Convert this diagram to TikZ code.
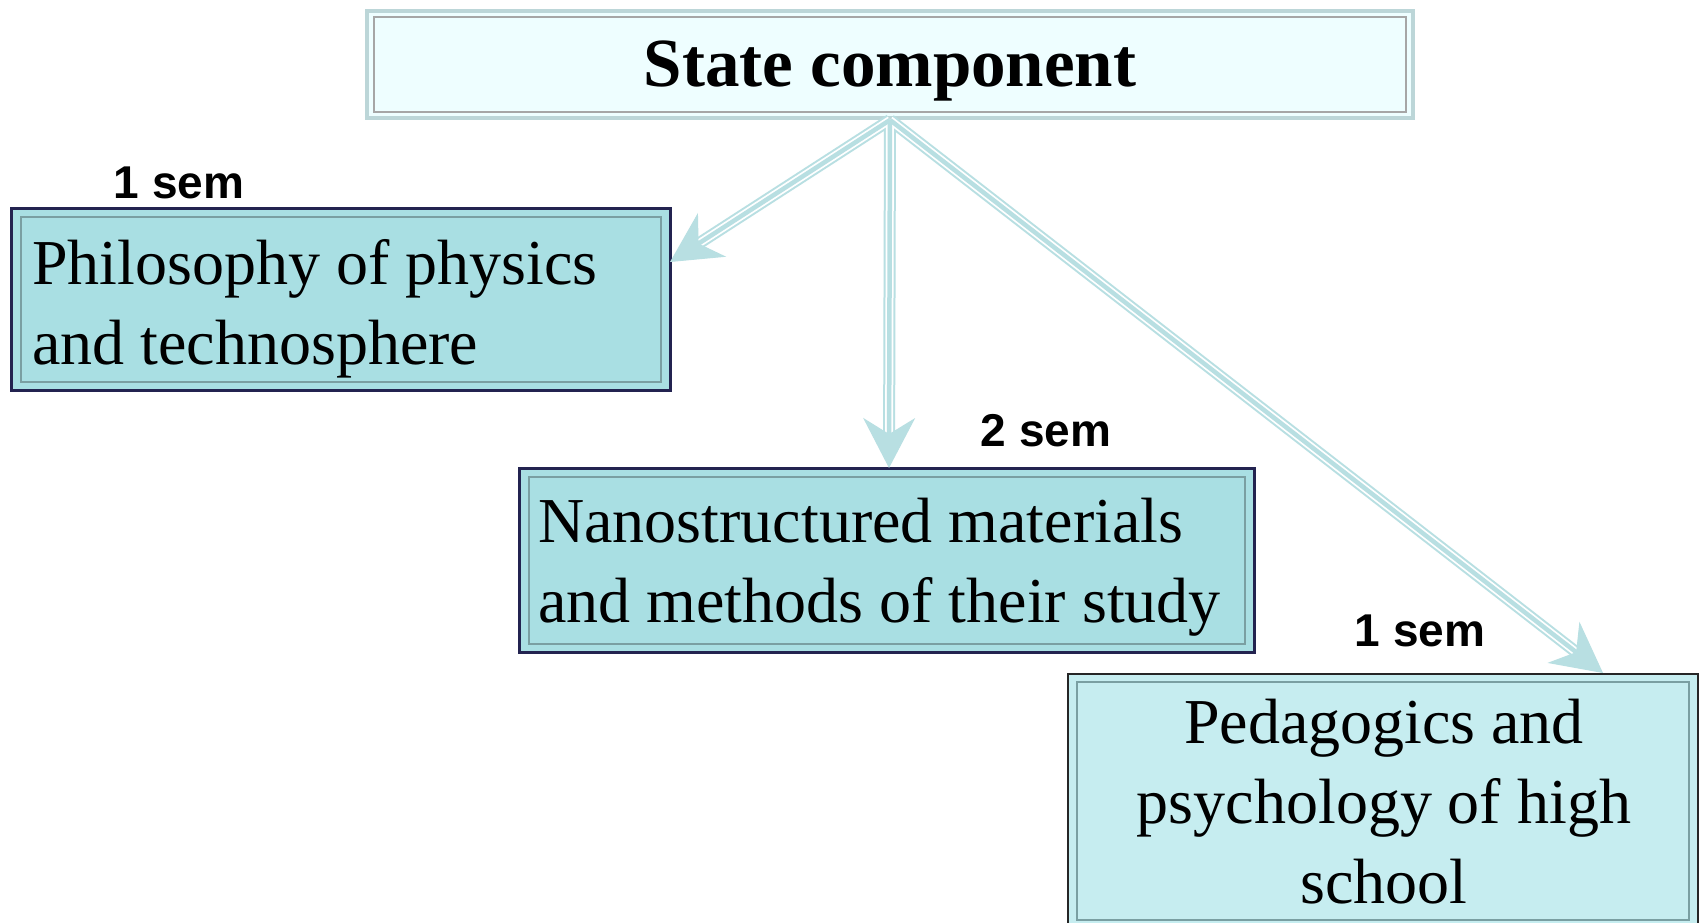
\documentclass[tikz,border=0pt]{standalone}
\usepackage{fontspec}
\setmainfont{Liberation Serif}
\newfontfamily\labelfont{Liberation Sans}
\usetikzlibrary{arrows.meta,calc}
\definecolor{arrowc}{HTML}{B8DFE2}
\definecolor{navy}{HTML}{232350}
\definecolor{boxfill}{HTML}{A9DFE3}
\definecolor{pedfill}{HTML}{C6EDF0}
\definecolor{topfill}{HTML}{EEFEFF}
\definecolor{topedge}{HTML}{BCD6D8}
\definecolor{inneredge}{HTML}{7A9FA2}
\begin{document}
\begin{tikzpicture}[x=1pt,y=-1pt,
  topbox/.style={draw=topedge, line width=4pt, fill=topfill, inner sep=0pt},
  topinner/.style={draw=gray!70, line width=1.5pt},
  cyanbox/.style={draw=navy, line width=3pt, fill=boxfill, inner sep=0pt},
  pedbox/.style={draw=black!85, line width=2.5pt, fill=pedfill, inner sep=0pt},
  innerframe/.style={draw=inneredge, line width=2pt},
  boxtext/.style={inner sep=0pt, font=\fontsize{64pt}{80pt}\selectfont},
  titletext/.style={inner sep=0pt, font=\fontsize{69pt}{80pt}\selectfont\bfseries},
  semlabel/.style={inner sep=0pt, font=\labelfont\bfseries\fontsize{46pt}{50pt}\selectfont},
  shaft/.style={draw=arrowc, line width=12pt, shorten >=20pt},
  shaftgap/.style={draw=white, line width=8pt, shorten >=20pt},
  shaftcore/.style={draw=arrowc, line width=4.5pt, shorten >=20pt},
  tipstyle/.style={draw=arrowc, fill=arrowc, line width=1pt, -{Stealth[length=50pt,width=52pt,inset=16pt]}}
]
\useasboundingbox (0,0) rectangle (1700,923);
\clip (0,0) rectangle (1700,923);
\fill[white] (0,0) rectangle (1700,923);

% top box
\node[topbox, minimum width=1046pt, minimum height=107pt] (top) at (890,64.5) {};
\draw[topinner] ([shift={(9,8)}]top.north west) rectangle ([shift={(-9,-8)}]top.south east);
\node[titletext, anchor=base] (title) at (890,87) {State component};

% left box
\node[cyanbox, minimum width=659pt, minimum height=182pt] (phil) at (340.5,299) {};
\draw[innerframe] ([shift={(11,10)}]phil.north west) rectangle ([shift={(-11,-10)}]phil.south east);
\node[boxtext, anchor=west, align=left] (philtext) at (32,308.5) {Philosophy of physics\\and technosphere};

% middle box
\node[cyanbox, minimum width=735pt, minimum height=184pt] (nano) at (886.5,560) {};
\draw[innerframe] ([shift={(11,10)}]nano.north west) rectangle ([shift={(-11,-10)}]nano.south east);
\node[boxtext, anchor=west, align=left] (nanotext) at (538,567.5) {Nanostructured materials\\and methods of their study};

% right box
\node[pedbox, minimum width=630pt, minimum height=254pt] (ped) at (1383,801) {};
\draw[innerframe] ([shift={(10,9)}]ped.north west) rectangle ([shift={(-10,-9)}]ped.south east);
\node[boxtext, align=center] (pedtext) at (1384,802) {Pedagogics and\\psychology of high\\school};

% labels
\node[semlabel, anchor=base] (s1) at (179,198) {1 sem};
\node[semlabel, anchor=base] (s2) at (1046,446) {2 sem};
\node[semlabel, anchor=base] (s3) at (1420,646) {1 sem};

% arrows
\coordinate (t1) at (670,262);
\coordinate (t2) at (889,468);
\coordinate (t3) at (1603,673);
\foreach \t in {t1,t2,t3} {
  \draw[shaft] (top.south) -- (\t);
}
\foreach \t in {t1,t2,t3} {
  \draw[shaftgap] (top.south) -- (\t);
}
\foreach \t in {t1,t2,t3} {
  \draw[shaftcore] (top.south) -- (\t);
  \draw[tipstyle] ($(\t)!20pt!(top.south)$) -- (\t);
}
\end{tikzpicture}
\end{document}
